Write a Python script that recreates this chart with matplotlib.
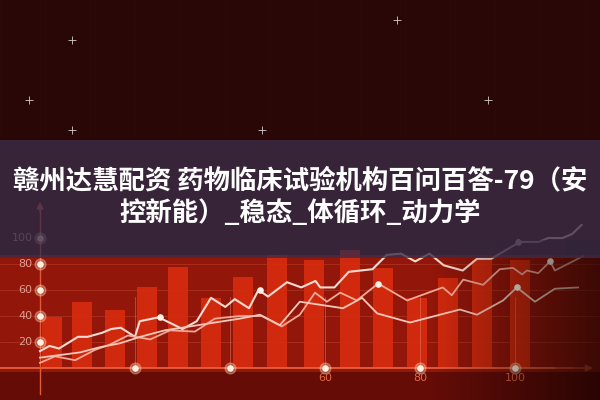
import numpy as np
import matplotlib
matplotlib.use("Agg")
from matplotlib import pyplot as plt
from matplotlib.patches import Rectangle

plt.rcParams['font.family'] = ['Noto Sans CJK SC', 'DejaVu Sans']

title_lines = ["赣州达慧配资 药物临床试验机构百问百答-79（安", "控新能）_稳态_体循环_动力学"]

# bars (x centre, height)
bar_x = [2.5, 8.8, 15.8, 22.5, 29.1, 36.0, 42.7, 49.9, 57.7, 65.3, 72.2, 79.4, 85.9, 93.1, 101.1]
bar_h = [39, 51, 45, 62, 78, 54, 70, 87, 83, 91, 77, 54, 69, 83, 83]

# three rising lines
a_x = [0, 2, 4, 8, 10, 13, 15, 17, 20, 21, 25, 30, 33, 36, 39, 41, 44, 46, 48, 52,
       55, 58, 59, 62, 65, 70, 73, 76, 79, 82, 85, 89, 92, 95, 101, 105, 107, 110, 112, 114]
a_y = [13, 17, 15, 24, 24, 27, 30, 31, 24, 36, 39, 30, 36, 54, 47, 53, 46, 60, 55, 66,
       62, 67, 62, 62, 74, 76, 87, 88, 82, 88, 79, 75, 84, 84, 97, 97, 100, 100, 103, 110]
b_x = [0, 3.2, 7.4, 11.6, 14.7, 18.5, 23.2, 27.4, 32.6, 36.8, 42.1, 46.7, 50.9, 54.7, 57.9, 60.4,
       63.2, 66.7, 71.2, 77.3, 84.8, 86.7, 89.1, 93.3, 96.8, 99.6, 101.5, 102.5, 104.9, 107.4, 108.4, 114.3]
b_y = [4, 9, 6, 14, 18, 25, 22, 29, 28, 38, 40, 40, 32, 41, 58, 51,
       58, 52, 65, 52, 62, 56, 68, 64, 76, 77, 72, 75, 73, 82, 75, 86]
c_x = [0, 4.2, 8.4, 12.6, 16.8, 21.1, 26.3, 31.6, 36.8, 42.1, 46.3, 50.5, 54.7, 63.8, 67.8, 71.0,
       77.9, 88.4, 92.0, 97.5, 100.4, 104.2, 108.4, 113.3]
c_y = [8, 10, 12, 16, 19, 24, 29, 32, 35, 38, 41, 33, 51, 46, 54, 42,
       35, 45, 41, 52, 62, 51, 61, 62]

# glowing markers on the lines
dot_x = [25.3, 46.3, 71.2, 100.7, 107.4, 100.4]
dot_y = [39, 60, 65, 97, 82, 62]

y_ticks = [20, 40, 60, 80, 100]
x_ticks = [20, 40, 60, 80, 100]
x_tick_shown = ["", "", "60", "80", "100"]

xlim = (-8.42, 117.9)
ylim = (-24.6, 283.1)

fig = plt.figure(figsize=(6, 4), dpi=100)
ax = fig.add_axes([0, 0, 1, 1])
ax.set_xlim(xlim)
ax.set_ylim(ylim)
ax.axis('off')

# photo-like background
H, W = 400, 600
img = np.zeros((H, W, 3))
img[:] = (0.16, 0.03, 0.025)
img[255:372] = (0.58, 0.09, 0.04)
img[372:] = (0.40, 0.05, 0.03)
for col in range(0, W, 45):
    img[:255, col] = img[:255, col] * 1.08
ax.imshow(img, extent=(xlim[0], xlim[1], ylim[0], ylim[1]), aspect='auto', zorder=0)

# faint grid
for yt in y_ticks[:-1]:
    ax.axhline(yt, color='#f08060', lw=0.6, alpha=0.25, zorder=1)

ax.bar(bar_x, bar_h, width=4.3, color='#d82c0e', alpha=0.9, zorder=1)

# axes
ax.plot([-8.4, 112], [0, 0], color='#e8603c', lw=1.3, zorder=2)
ax.annotate('', xy=(117, 0), xytext=(108, 0),
            arrowprops=dict(arrowstyle='-|>', color='#c84428', lw=1.2), zorder=2)
ax.plot([0, 0], [-20, 122], color='#e05a3a', lw=1.0, zorder=2)
ax.annotate('', xy=(0, 130), xytext=(0, 118),
            arrowprops=dict(arrowstyle='-|>', color='#e05a3a', lw=1.0), zorder=2)
for xt in x_ticks:
    ax.plot([xt, xt], [0, 55], color='#f08a70', lw=0.6, alpha=0.5, zorder=2)

ax.plot(a_x, a_y, color='#f8dcd2', lw=1.5, zorder=3)
ax.plot(b_x, b_y, color='#f4a898', lw=1.3, zorder=3)
ax.plot(c_x, c_y, color='#f6c8ba', lw=1.3, zorder=3)
ax.scatter(dot_x, dot_y, s=14, color='#fff2e8', zorder=4)

# glowing tick dots
ax.scatter([0] * len(y_ticks), y_ticks, s=60, color='#ffd0b0', alpha=0.35, zorder=4)
ax.scatter([0] * len(y_ticks), y_ticks, s=14, color='#fff0e0', zorder=4)
ax.scatter(x_ticks, [0] * len(x_ticks), s=60, color='#ffd0b0', alpha=0.35, zorder=4)
ax.scatter(x_ticks, [0] * len(x_ticks), s=14, color='#fff0e0', zorder=4)

for yt in y_ticks:
    ax.text(-1.6, yt, str(yt), ha='right', va='center', fontsize=8,
            color='#dca092', family='DejaVu Sans', zorder=4)
for xt, lab in zip(x_ticks, x_tick_shown):
    ax.text(xt, -7.5, lab, ha='center', va='center', fontsize=8,
            color='#e0683f', family='DejaVu Sans', zorder=4)

# darken the right side
fade = np.zeros((H, W, 4))
fade[240:, :, 3] = np.clip((np.arange(W) - 430) / 170.0, 0, 1) * 0.6
ax.imshow(fade, extent=(xlim[0], xlim[1], ylim[0], ylim[1]), aspect='auto', zorder=5)

# sparkles in the dark sky
star_x = [6.8, -2.3, 6.8, 46.7, 75.2, 94.3]
star_y = [252, 206, 183, 183, 268, 206]
ax.scatter(star_x, star_y, marker='+', s=40, color='white', lw=0.6, alpha=0.8, zorder=5)

# title band
ax.add_patch(Rectangle((0, 0.355), 1, 0.295, transform=ax.transAxes,
                       facecolor='#3c2c47', alpha=0.8, edgecolor='none', zorder=6))
fig.text(0.5, 0.548, title_lines[0], ha='center', va='center', fontsize=19,
         fontweight='bold', color='white', zorder=7)
fig.text(0.5, 0.467, title_lines[1], ha='center', va='center', fontsize=19,
         fontweight='bold', color='white', zorder=7)

fig.savefig('out.png', dpi=100)
